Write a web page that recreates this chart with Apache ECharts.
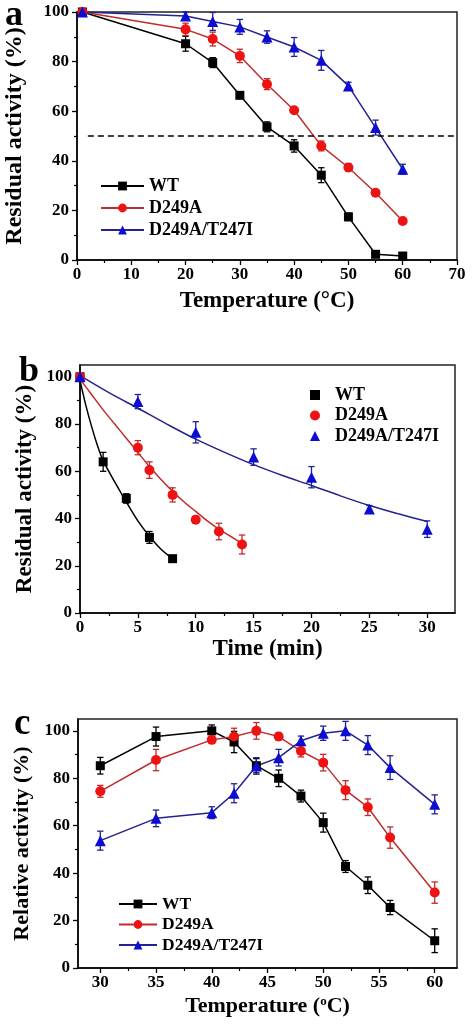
<!DOCTYPE html>
<html><head><meta charset="utf-8">
<script src="https://cdn.jsdelivr.net/npm/echarts@6/dist/echarts.min.js"></script>
<style>body{margin:0;background:#fff;overflow:hidden}.p{position:absolute;left:0;width:474px}</style>
</head><body>
<div id="a" class="p" style="top:0;height:320px"></div>
<div id="b" class="p" style="top:330px;height:350px"></div>
<div id="c" class="p" style="top:690px;height:335px"></div>
<script>
// ---------- data ----------
const seriesNames = ['WT', 'D249A', 'D249A/T247I'];

// panel a: residual activity vs temperature
const aTemp = [1, 20, 25, 30, 35, 40, 45, 50, 55, 60];
const aWT = [100, 87.2, 79.6, 66.4, 53.7, 46, 34.2, 17.4, 2.3, 1.6];
const aWTErr = [0, 3, 2, 1, 2, 2.5, 3, 1.5, 0.5, 0.5];
const aD = [100, 93, 89.1, 82.3, 70.9, 60.4, 46, 37.3, 27.1, 15.7];
const aDErr = [0, 2.5, 2.8, 2.7, 2.2, 1, 2, 1.5, 1, 1];
const aDT = [100, 98.4, 96.2, 94, 89.9, 85.9, 80.5, 70.2, 53.4, 36.6];
const aDTErr = [0, 1.5, 3.6, 3, 2.5, 3.8, 4, 1.5, 3, 2];
const aHalfLine = 50;
const aXTicks = [0, 10, 20, 30, 40, 50, 60, 70];
const aXMinor = [5, 15, 25, 35, 45, 55, 65];
const yTicks = [0, 20, 40, 60, 80, 100];
const yMinor = [10, 30, 50, 70, 90];

// panel b: residual activity vs time
const bTimeWT = [0, 2, 4, 6, 8];
const bWT = [100, 64, 48.5, 32, 23];
const bWTErr = [0, 4, 2, 2.5, 1];
const bTimeD = [0, 5, 6, 8, 10, 12, 14];
const bD = [100, 70, 60.5, 50, 39.5, 34.5, 29];
const bDErr = [0, 3, 3.5, 3, 1.5, 3.5, 4];
const bTimeDT = [0, 5, 10, 15, 20, 25, 30];
const bDT = [100, 89.5, 76.5, 66, 57.5, 44, 35.5];
const bDTErr = [0, 3, 4.5, 3.5, 4.5, 1.5, 3.5];
// fitted decay curves
const bFitWTx = [0, 0.5, 1, 1.5, 2, 3, 4, 5, 6, 7, 8];
const bFitWTy = [98.5, 88, 79, 71, 64.5, 55.5, 47, 39, 32.5, 27, 23];
const bFitDx = [0, 1, 2, 3, 4, 5, 6, 7, 8, 9, 10, 11, 12, 13, 14];
const bFitDy = [99, 92.5, 86, 80, 74, 68, 62, 56.5, 51.5, 47, 43, 39, 35.5, 32.5, 29.5];
const bFitDTx = [0, 2.5, 5, 7.5, 10, 12.5, 15, 17.5, 20, 22.5, 25, 27.5, 30];
const bFitDTy = [100.5, 93.3, 86.7, 80, 73.6, 68, 62.8, 58.2, 54, 49.6, 45.5, 42, 38.7];
const bXTicks = [0, 5, 10, 15, 20, 25, 30];
const bXMinor = [2.5, 7.5, 12.5, 17.5, 22.5, 27.5];

// panel c: relative activity vs temperature
const cTemp = [30, 35, 40, 42, 44, 46, 48, 50, 52, 54, 56, 60];
const cWT = [85.3, 97.6, 100, 95.3, 85.3, 80, 72.5, 61.3, 42.8, 34.9, 25.5, 11.5];
const cWTErr = [3.5, 4, 2.5, 4.5, 3, 3.5, 2.5, 4, 2.5, 3.5, 3, 5];
const cD = [74.5, 87.7, 96.2, 97.6, 100, 97.6, 91.5, 86.6, 75, 67.8, 55, 31.8];
const cDErr = [2.5, 4.5, 1, 3.5, 3.5, 1.5, 2.5, 3.5, 4, 3.5, 4.5, 4.5];
const cDT = [53.7, 63.1, 65.5, 73.7, 85.2, 88.7, 95.8, 99, 100, 94, 84.5, 69];
const cDTErr = [4, 3.5, 2.5, 4, 3.5, 3.5, 2, 3, 4, 4, 5, 4];
const cXTicks = [30, 35, 40, 45, 50, 55, 60];
const cXMinor = [32.5, 37.5, 42.5, 47.5, 52.5, 57.5];

// ---------- styling ----------
const FONT = '"Liberation Serif","Times New Roman",serif';
const COL = {
  WT: {mark: '#000000', line: '#000000'},
  D: {mark: '#ee1313', line: '#c22b2b'},
  DT: {mark: '#0c0cd2', line: '#23238f'}
};

function zip(xs, ys) { return xs.map((x, i) => [x, ys[i]]); }

function errBars(xs, ys, es, color) {
  return {
    type: 'custom', silent: true, z: 1,
    data: xs.map((x, i) => [x, ys[i], es[i]]),
    dimensions: ['x', 'y', 'e'],
    encode: {x: 0, y: 1},
    renderItem(params, api) {
      const x = api.value(0), y = api.value(1), e = api.value(2);
      if (!e) return null;
      const t = api.coord([x, y + e]), b = api.coord([x, y - e]);
      const w = 3.2;
      const st = {stroke: color, lineWidth: 1.3};
      return {type: 'group', children: [
        {type: 'line', shape: {x1: t[0], y1: t[1], x2: b[0], y2: b[1]}, style: st},
        {type: 'line', shape: {x1: t[0] - w, y1: t[1], x2: t[0] + w, y2: t[1]}, style: st},
        {type: 'line', shape: {x1: b[0] - w, y1: b[1], x2: b[0] + w, y2: b[1]}, style: st}
      ]};
    }
  };
}

function xAxes(min, max, majors, minors, name, gap, nameSize, rich) {
  return [{
    type: 'value', position: 'bottom', min, max,
    splitLine: {show: false},
    axisLine: {show: true, onZero: false, lineStyle: {color: '#000', width: 1.5}},
    axisTick: {show: true, inside: false, length: 5, customValues: majors, lineStyle: {color: '#000', width: 1.3}},
    axisLabel: {customValues: majors, fontFamily: FONT, fontWeight: 'bold', fontSize: 17, color: '#000', margin: 6},
    name, nameLocation: 'middle', nameGap: gap, nameMoveOverlap: false,
    nameTextStyle: {fontFamily: FONT, fontWeight: 'bold', fontSize: nameSize, color: '#000', rich: rich || {}}
  }, {
    type: 'value', position: 'bottom', min, max,
    splitLine: {show: false}, axisLine: {show: false}, axisLabel: {show: false},
    axisTick: {show: true, inside: false, length: 3, customValues: minors, lineStyle: {color: '#000', width: 1.2}}
  }];
}

function yAxes(min, max, name, gap, nameSize) {
  return [{
    type: 'value', position: 'left', min, max,
    splitLine: {show: false},
    axisLine: {show: true, onZero: false, lineStyle: {color: '#000', width: 1.5}},
    axisTick: {show: true, inside: false, length: 5, customValues: yTicks, lineStyle: {color: '#000', width: 1.3}},
    axisLabel: {customValues: yTicks, fontFamily: FONT, fontWeight: 'bold', fontSize: 17, color: '#000', margin: 8},
    name, nameLocation: 'middle', nameGap: gap, nameRotate: 90, nameMoveOverlap: false,
    nameTextStyle: {fontFamily: FONT, fontWeight: 'bold', fontSize: nameSize, color: '#000'}
  }, {
    type: 'value', position: 'left', min, max,
    splitLine: {show: false}, axisLine: {show: false}, axisLabel: {show: false},
    axisTick: {show: true, inside: false, length: 3, customValues: yMinor, lineStyle: {color: '#000', width: 1.2}}
  }];
}

function lineSeries(name, xs, ys, c, symbol, size) {
  return {
    type: 'line', name, data: zip(xs, ys), z: 2,
    symbol, symbolSize: size,
    itemStyle: {color: c.mark, borderColor: c.mark, borderWidth: 0},
    lineStyle: {color: c.line, width: 1.5},
    emphasis: {disabled: true}, animation: false
  };
}

function letter(t, x, y, size) {
  return {type: 'text', left: x, top: y, style: {text: t, fontFamily: FONT, fontWeight: 'bold', fontSize: size, fill: '#000'}};
}

const gridBase = {show: true, borderColor: '#222', borderWidth: 1.5, backgroundColor: 'transparent', containLabel: false, outerBoundsMode: 'none'};
const legendText = (size, padLeft) => ({fontFamily: FONT, fontWeight: 'bold', fontSize: size, color: '#000', lineHeight: 18, padding: [0, 0, 0, padLeft || 0]});

// ---------- panel a ----------
const chartA = echarts.init(document.getElementById('a'), null, {renderer: 'canvas'});
const aWTSeries = lineSeries(seriesNames[0], aTemp, aWT, COL.WT, 'rect', 9);
aWTSeries.markLine = {
  silent: true, symbol: 'none', label: {show: false},
  lineStyle: {type: [6, 4], color: '#000', width: 1.5},
  data: [[{coord: [2, aHalfLine]}, {coord: [70, aHalfLine]}]]
};
chartA.setOption({
  animation: false,
  grid: Object.assign({left: 77, top: 12, width: 380, height: 248}, gridBase),
  xAxis: xAxes(0, 70, aXTicks, aXMinor, 'Temperature (°C)', 30, 23),
  yAxis: yAxes(0, 100, 'Residual activity (%)', 50, 24),
  legend: {
    data: seriesNames, orient: 'vertical', left: 95, top: 172, itemWidth: 43, itemHeight: 11, itemGap: 4,
    textStyle: legendText(18), selectedMode: false
  },
  graphic: [letter('a', 5, -2, 36)],
  series: [
    errBars(aTemp, aWT, aWTErr, COL.WT.line),
    errBars(aTemp, aD, aDErr, COL.D.line),
    errBars(aTemp, aDT, aDTErr, COL.DT.line),
    aWTSeries,
    lineSeries(seriesNames[1], aTemp, aD, COL.D, 'circle', 10),
    lineSeries(seriesNames[2], aTemp, aDT, COL.DT, 'triangle', 11)
  ]
});

// ---------- panel b ----------
const chartB = echarts.init(document.getElementById('b'), null, {renderer: 'canvas'});
function fitLine(xs, ys, color) {
  return {type: 'line', data: zip(xs, ys), smooth: 0.3, showSymbol: false, symbol: 'none', z: 1,
    lineStyle: {color, width: 1.5}, emphasis: {disabled: true}, silent: true};
}
function scatter(name, xs, ys, c, symbol, size) {
  return {type: 'scatter', name, data: zip(xs, ys), symbol, symbolSize: size, z: 3,
    itemStyle: {color: c.mark, opacity: 1}, emphasis: {disabled: true}};
}
chartB.setOption({
  animation: false,
  grid: Object.assign({left: 80, top: 35, width: 375, height: 248}, gridBase),
  xAxis: xAxes(0, 32.4, bXTicks, bXMinor, 'Time (min)', 25, 23),
  yAxis: yAxes(0, 105, 'Residual activity (%)', 43, 23),
  legend: {
    data: [
      {name: seriesNames[0], icon: 'rect', itemStyle: {color: COL.WT.mark}},
      {name: seriesNames[1], icon: 'circle', itemStyle: {color: COL.D.mark}},
      {name: seriesNames[2], icon: 'triangle', itemStyle: {color: COL.DT.mark}}
    ],
    orient: 'vertical', left: 305, top: 51, itemWidth: 10, itemHeight: 10, itemGap: 2.5,
    textStyle: legendText(18, 10), selectedMode: false
  },
  graphic: [letter('b', 19, 24, 36)],
  series: [
    fitLine(bFitWTx, bFitWTy, COL.WT.line),
    fitLine(bFitDx, bFitDy, COL.D.line),
    fitLine(bFitDTx, bFitDTy, COL.DT.line),
    errBars(bTimeWT, bWT, bWTErr, COL.WT.line),
    errBars(bTimeD, bD, bDErr, COL.D.line),
    errBars(bTimeDT, bDT, bDTErr, COL.DT.line),
    scatter(seriesNames[0], bTimeWT, bWT, COL.WT, 'rect', 9),
    scatter(seriesNames[1], bTimeD, bD, COL.D, 'circle', 10),
    scatter(seriesNames[2], bTimeDT, bDT, COL.DT, 'triangle', 11)
  ]
});

// ---------- panel c ----------
const chartC = echarts.init(document.getElementById('c'), null, {renderer: 'canvas'});
chartC.setOption({
  animation: false,
  grid: Object.assign({left: 78, top: 29, width: 379, height: 249}, gridBase),
  xAxis: xAxes(28, 62, cXTicks, cXMinor, 'Temperature ({s|o}C)', 27, 22,
    {s: {fontFamily: FONT, fontWeight: 'bold', fontSize: 13, color: '#000', verticalAlign: 'top', padding: [0, 0, 9, 0]}}),
  yAxis: yAxes(0, 105, 'Relative activity (%)', 45, 22),
  legend: {
    data: seriesNames, orient: 'vertical', left: 113, top: 200, itemWidth: 38, itemHeight: 11, itemGap: 2.5,
    textStyle: legendText(17.5), selectedMode: false
  },
  graphic: [letter('c', 14, 16, 37)],
  series: [
    errBars(cTemp, cWT, cWTErr, COL.WT.line),
    errBars(cTemp, cD, cDErr, COL.D.line),
    errBars(cTemp, cDT, cDTErr, COL.DT.line),
    lineSeries(seriesNames[0], cTemp, cWT, COL.WT, 'rect', 9),
    lineSeries(seriesNames[1], cTemp, cD, COL.D, 'circle', 10),
    lineSeries(seriesNames[2], cTemp, cDT, COL.DT, 'triangle', 11)
  ]
});
</script>
</body></html>
